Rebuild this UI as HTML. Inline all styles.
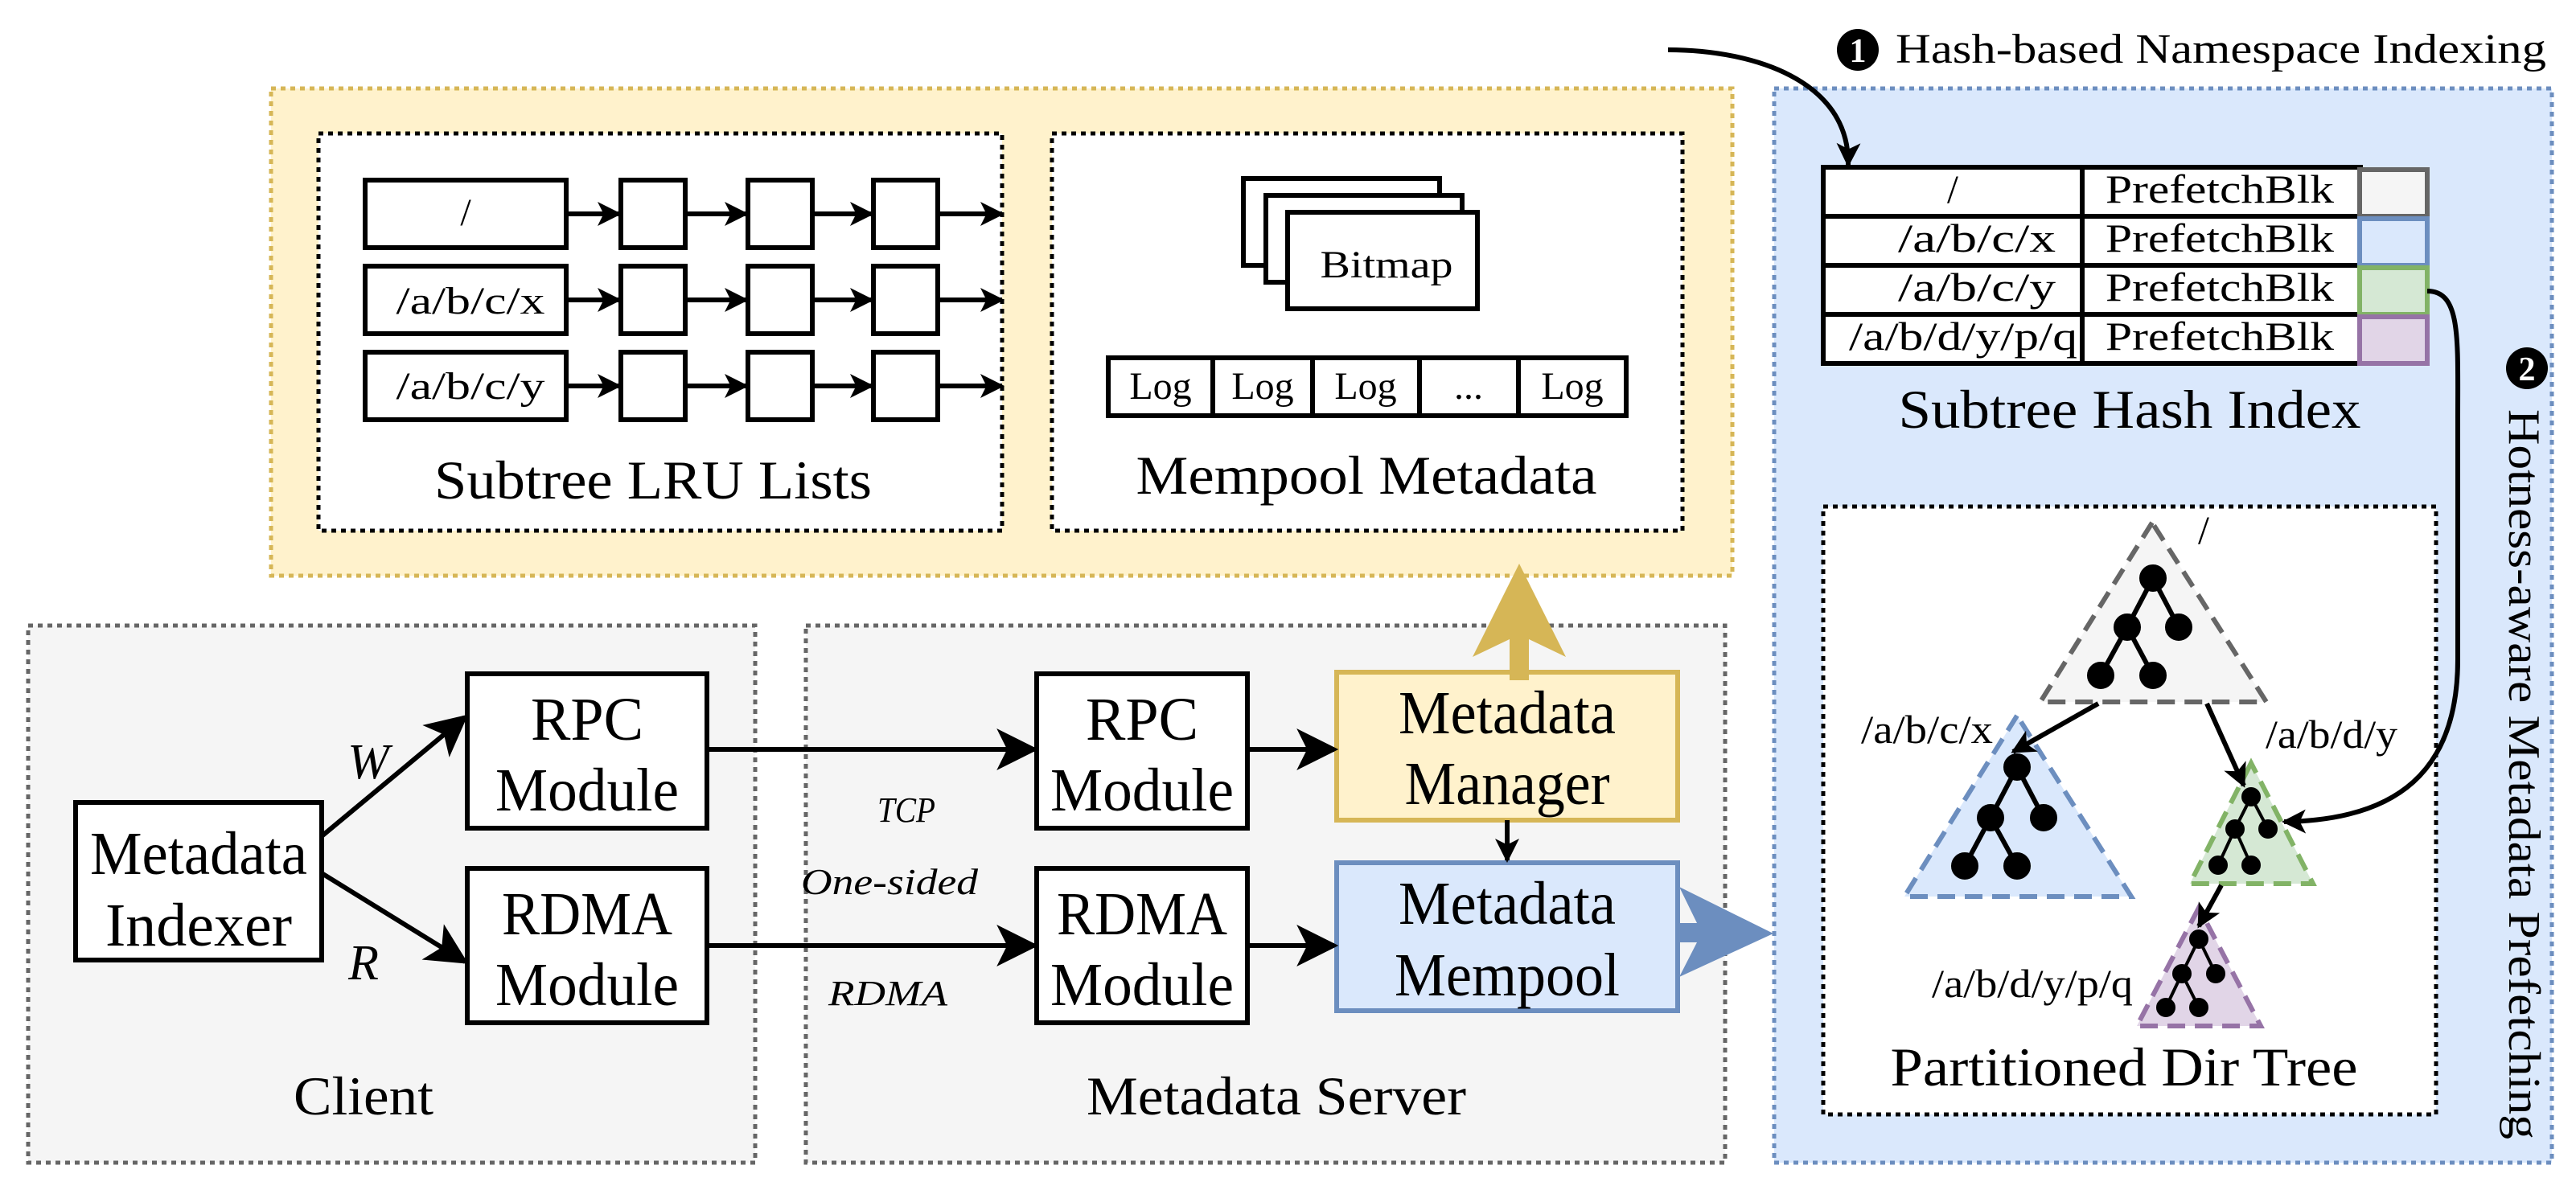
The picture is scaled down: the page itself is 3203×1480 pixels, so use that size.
<!DOCTYPE html>
<html><head><meta charset="utf-8"><style>
html,body{margin:0;padding:0;background:#fff}
svg{display:block}
text{font-family:"Liberation Serif","Times New Roman","Tinos","Nimbus Roman","DejaVu Serif",serif;fill:#000}
</style></head><body>
<svg width="3203" height="1480" viewBox="0 0 3203 1480" xmlns="http://www.w3.org/2000/svg" font-family="'Liberation Serif', 'Times New Roman', 'DejaVu Serif', serif">
<defs>
<marker id="big" viewBox="0 0 10 10" refX="9" refY="5" markerWidth="52" markerHeight="52" orient="auto" markerUnits="userSpaceOnUse"><path d="M0,0 L10,5 L0,10 L2.5,5 Z" fill="#000"/></marker>
<marker id="sm" viewBox="0 0 10 10" refX="9" refY="5" markerWidth="30" markerHeight="30" orient="auto" markerUnits="userSpaceOnUse"><path d="M0,0 L10,5 L0,10 L2.5,5 Z" fill="#000"/></marker>
</defs>

<rect x="337" y="110" width="1817" height="606" fill="#fff2cc" stroke="#d6b656" stroke-width="5" stroke-dasharray="6,6"/>
<rect x="396" y="166" width="850" height="494" fill="#fff" stroke="#000" stroke-width="5" stroke-dasharray="6,6"/>
<rect x="1308" y="166" width="784" height="494" fill="#fff" stroke="#000" stroke-width="5" stroke-dasharray="6,6"/>

<g stroke="#000" stroke-width="6" fill="#fff">
<rect x="454" y="224" width="250" height="84"/>
<rect x="454" y="331" width="250" height="84"/>
<rect x="454" y="438" width="250" height="84"/>
<rect x="772" y="224" width="80" height="84"/><rect x="930" y="224" width="80" height="84"/><rect x="1086" y="224" width="80" height="84"/>
<rect x="772" y="331" width="80" height="84"/><rect x="930" y="331" width="80" height="84"/><rect x="1086" y="331" width="80" height="84"/>
<rect x="772" y="438" width="80" height="84"/><rect x="930" y="438" width="80" height="84"/><rect x="1086" y="438" width="80" height="84"/>
</g>
<g stroke="#000" stroke-width="6" marker-end="url(#sm)">
<line x1="704" y1="266" x2="770" y2="266"/><line x1="852" y1="266" x2="928" y2="266"/><line x1="1010" y1="266" x2="1084" y2="266"/><line x1="1166" y1="266" x2="1246" y2="266"/>
<line x1="704" y1="373" x2="770" y2="373"/><line x1="852" y1="373" x2="928" y2="373"/><line x1="1010" y1="373" x2="1084" y2="373"/><line x1="1166" y1="373" x2="1246" y2="373"/>
<line x1="704" y1="480" x2="770" y2="480"/><line x1="852" y1="480" x2="928" y2="480"/><line x1="1010" y1="480" x2="1084" y2="480"/><line x1="1166" y1="480" x2="1246" y2="480"/>
</g>
<g font-size="48" text-anchor="middle">
<text x="579" y="280">/</text>
<text x="585" y="390" textLength="185" lengthAdjust="spacingAndGlyphs">/a/b/c/x</text>
<text x="585" y="496" textLength="185" lengthAdjust="spacingAndGlyphs">/a/b/c/y</text>
</g>
<text x="812" y="620" font-size="68" text-anchor="middle" textLength="544" lengthAdjust="spacingAndGlyphs">Subtree LRU Lists</text>

<g stroke="#000" stroke-width="6" fill="#fff">
<rect x="1546" y="222" width="244" height="108"/>
<rect x="1574" y="243" width="244" height="108"/>
<rect x="1601" y="264" width="236" height="120"/>
</g>
<text x="1724" y="345" font-size="48" text-anchor="middle" textLength="165" lengthAdjust="spacingAndGlyphs">Bitmap</text>
<g stroke="#000" stroke-width="6" fill="#fff">
<rect x="1378" y="445" width="644" height="72"/>
<line x1="1508" y1="445" x2="1508" y2="517"/><line x1="1632" y1="445" x2="1632" y2="517"/><line x1="1765" y1="445" x2="1765" y2="517"/><line x1="1888" y1="445" x2="1888" y2="517"/>
</g>
<g font-size="48" text-anchor="middle">
<text x="1443" y="496">Log</text><text x="1570" y="496">Log</text><text x="1698" y="496">Log</text><text x="1826" y="496">...</text><text x="1955" y="496">Log</text>
</g>
<text x="1699" y="614" font-size="68" text-anchor="middle" textLength="573" lengthAdjust="spacingAndGlyphs">Mempool Metadata</text>

<rect x="35" y="778" width="904" height="668" fill="#f5f5f5" stroke="#666" stroke-width="5" stroke-dasharray="6,6"/>
<rect x="1002" y="778" width="1143" height="668" fill="#f5f5f5" stroke="#666" stroke-width="5" stroke-dasharray="6,6"/>

<g stroke="#000" stroke-width="6" fill="#fff">
<rect x="94" y="998" width="306" height="196"/>
<rect x="581" y="838" width="298" height="192"/>
<rect x="581" y="1080" width="298" height="192"/>
<rect x="1289" y="838" width="262" height="192"/>
<rect x="1289" y="1080" width="262" height="192"/>
</g>
<rect x="1662" y="836" width="424" height="184" fill="#fff2cc" stroke="#d6b656" stroke-width="6"/>
<rect x="1662" y="1073" width="424" height="184" fill="#dae8fc" stroke="#6c8ebf" stroke-width="6"/>

<g font-size="76" text-anchor="middle">
<text x="247" y="1087" textLength="270" lengthAdjust="spacingAndGlyphs">Metadata</text><text x="247" y="1176" textLength="232" lengthAdjust="spacingAndGlyphs">Indexer</text>
<text x="730" y="920" textLength="140" lengthAdjust="spacingAndGlyphs">RPC</text><text x="730" y="1008" textLength="228" lengthAdjust="spacingAndGlyphs">Module</text>
<text x="730" y="1162" textLength="212" lengthAdjust="spacingAndGlyphs">RDMA</text><text x="730" y="1250" textLength="228" lengthAdjust="spacingAndGlyphs">Module</text>
<text x="1420" y="920" textLength="140" lengthAdjust="spacingAndGlyphs">RPC</text><text x="1420" y="1008" textLength="228" lengthAdjust="spacingAndGlyphs">Module</text>
<text x="1420" y="1162" textLength="212" lengthAdjust="spacingAndGlyphs">RDMA</text><text x="1420" y="1250" textLength="228" lengthAdjust="spacingAndGlyphs">Module</text>
<text x="1874" y="912" textLength="270" lengthAdjust="spacingAndGlyphs">Metadata</text><text x="1874" y="1000" textLength="255" lengthAdjust="spacingAndGlyphs">Manager</text>
<text x="1874" y="1149" textLength="270" lengthAdjust="spacingAndGlyphs">Metadata</text><text x="1874" y="1238" textLength="280" lengthAdjust="spacingAndGlyphs">Mempool</text>
</g>
<g font-size="68" text-anchor="middle">
<text x="452" y="1386" textLength="174" lengthAdjust="spacingAndGlyphs">Client</text>
<text x="1587" y="1386" textLength="472" lengthAdjust="spacingAndGlyphs">Metadata Server</text>
</g>
<g font-style="italic" text-anchor="middle">
<text x="458" y="968" font-size="62">W</text>
<text x="452" y="1218" font-size="62">R</text>
<text x="1127" y="1022" font-size="44" textLength="72" lengthAdjust="spacingAndGlyphs">TCP</text>
<text x="1106" y="1112" font-size="46" textLength="220" lengthAdjust="spacingAndGlyphs">One-sided</text>
<text x="1104" y="1250" font-size="44" textLength="148" lengthAdjust="spacingAndGlyphs">RDMA</text>
</g>

<g stroke="#000" stroke-width="6" marker-end="url(#big)">
<line x1="400" y1="1040" x2="578" y2="892"/>
<line x1="400" y1="1086" x2="578" y2="1196"/>
<line x1="879" y1="932" x2="1286" y2="932"/>
<line x1="879" y1="1176" x2="1286" y2="1176"/>
<line x1="1551" y1="932" x2="1659" y2="932"/>
<line x1="1551" y1="1176" x2="1659" y2="1176"/>
</g>
<line x1="1874" y1="1020" x2="1874" y2="1070" stroke="#000" stroke-width="6" marker-end="url(#sm)"/>

<polygon points="1889,701 1947,817 1901,795 1901,846 1877,846 1877,795 1831,817" fill="#d6b656"/>
<polygon points="2205,1161 2088,1103 2110,1148 2088,1148 2088,1172 2110,1172 2088,1215" fill="#6c8ebf"/>

<rect x="2206" y="110" width="967" height="1336" fill="#dae8fc" stroke="#6c8ebf" stroke-width="5" stroke-dasharray="6,6"/>
<g stroke="#000" stroke-width="6" fill="#fff">
<rect x="2267" y="208" width="668" height="244"/>
<line x1="2267" y1="269" x2="2935" y2="269"/><line x1="2267" y1="330" x2="2935" y2="330"/><line x1="2267" y1="391" x2="2935" y2="391"/>
<line x1="2589" y1="208" x2="2589" y2="452"/>
</g>
<rect x="2934" y="211" width="84" height="58" fill="#f5f5f5" stroke="#666" stroke-width="6"/>
<rect x="2934" y="272" width="84" height="58" fill="#dae8fc" stroke="#6c8ebf" stroke-width="6"/>
<rect x="2934" y="333" width="84" height="58" fill="#d5e8d4" stroke="#82b366" stroke-width="6"/>
<rect x="2934" y="394" width="84" height="58" fill="#e1d5e7" stroke="#9673a6" stroke-width="6"/>
<g font-size="50" text-anchor="middle">
<text x="2428" y="252">/</text>
<text x="2458" y="313" textLength="196" lengthAdjust="spacingAndGlyphs">/a/b/c/x</text>
<text x="2458" y="374" textLength="196" lengthAdjust="spacingAndGlyphs">/a/b/c/y</text>
<text x="2441" y="435" textLength="284" lengthAdjust="spacingAndGlyphs">/a/b/d/y/p/q</text>
<text x="2760" y="252" textLength="284" lengthAdjust="spacingAndGlyphs">PrefetchBlk</text>
<text x="2760" y="313" textLength="284" lengthAdjust="spacingAndGlyphs">PrefetchBlk</text>
<text x="2760" y="374" textLength="284" lengthAdjust="spacingAndGlyphs">PrefetchBlk</text>
<text x="2760" y="435" textLength="284" lengthAdjust="spacingAndGlyphs">PrefetchBlk</text>
</g>
<text x="2648" y="532" font-size="68" text-anchor="middle" textLength="575" lengthAdjust="spacingAndGlyphs">Subtree Hash Index</text>

<rect x="2267" y="630" width="762" height="756" fill="#fff" stroke="#000" stroke-width="5" stroke-dasharray="6,6"/>
<text x="2641" y="1350" font-size="68" text-anchor="middle" textLength="581" lengthAdjust="spacingAndGlyphs">Partitioned Dir Tree</text>

<polygon points="2676,650 2537,873 2818,873" fill="#f5f5f5" stroke="#666" stroke-width="6" stroke-dasharray="22,12"/>
<polygon points="2508,890 2368,1115 2650,1115" fill="#dae8fc" stroke="#6c8ebf" stroke-width="6" stroke-dasharray="22,12"/>
<polygon points="2799,949 2723,1099 2876,1099" fill="#d5e8d4" stroke="#82b366" stroke-width="6" stroke-dasharray="22,12"/>
<polygon points="2734,1129 2657,1276 2811,1276" fill="#e1d5e7" stroke="#9673a6" stroke-width="6" stroke-dasharray="22,12"/>
<g stroke="#000" stroke-width="6" fill="#000">
<line x1="2677" y1="719" x2="2645" y2="780"/><line x1="2677" y1="719" x2="2709" y2="780"/><line x1="2645" y1="780" x2="2612" y2="840"/><line x1="2645" y1="780" x2="2677" y2="840"/>
<circle cx="2677" cy="719" r="14"/><circle cx="2645" cy="780" r="14"/><circle cx="2709" cy="780" r="14"/><circle cx="2612" cy="840" r="14"/><circle cx="2677" cy="840" r="14"/>
<line x1="2508" y1="954" x2="2475" y2="1017"/><line x1="2508" y1="954" x2="2541" y2="1017"/><line x1="2475" y1="1017" x2="2443" y2="1077"/><line x1="2475" y1="1017" x2="2508" y2="1077"/>
<circle cx="2508" cy="954" r="14"/><circle cx="2475" cy="1017" r="14"/><circle cx="2541" cy="1017" r="14"/><circle cx="2443" cy="1077" r="14"/><circle cx="2508" cy="1077" r="14"/>
<line x1="2799" y1="991" x2="2779" y2="1031" stroke-width="4"/><line x1="2799" y1="991" x2="2820" y2="1031" stroke-width="4"/><line x1="2779" y1="1031" x2="2758" y2="1076" stroke-width="4"/><line x1="2779" y1="1031" x2="2799" y2="1076" stroke-width="4"/>
<circle cx="2799" cy="991" r="9"/><circle cx="2779" cy="1031" r="9"/><circle cx="2820" cy="1031" r="9"/><circle cx="2758" cy="1076" r="9"/><circle cx="2799" cy="1076" r="9"/>
<line x1="2734" y1="1168" x2="2713" y2="1211" stroke-width="4"/><line x1="2734" y1="1168" x2="2755" y2="1211" stroke-width="4"/><line x1="2713" y1="1211" x2="2693" y2="1253" stroke-width="4"/><line x1="2713" y1="1211" x2="2734" y2="1253" stroke-width="4"/>
<circle cx="2734" cy="1168" r="9"/><circle cx="2713" cy="1211" r="9"/><circle cx="2755" cy="1211" r="9"/><circle cx="2693" cy="1253" r="9"/><circle cx="2734" cy="1253" r="9"/>
</g>
<g stroke="#000" stroke-width="6" fill="none" marker-end="url(#sm)">
<line x1="2609" y1="875" x2="2503" y2="935"/>
<line x1="2744" y1="875" x2="2790" y2="977"/>
<line x1="2762" y1="1101" x2="2734" y2="1152"/>
<path d="M2074,62 C2180,62 2300,100 2298,205"/>
<path d="M3018,362 C3060,362 3056,420 3056,520 L3056,820 C3056,960 2980,1020 2840,1022"/>
</g>
<g font-size="50" text-anchor="middle">
<text x="2740" y="676">/</text>
<text x="2396" y="924" textLength="164" lengthAdjust="spacingAndGlyphs">/a/b/c/x</text>
<text x="2899" y="930" textLength="164" lengthAdjust="spacingAndGlyphs">/a/b/d/y</text>
<text x="2527" y="1240" textLength="250" lengthAdjust="spacingAndGlyphs">/a/b/d/y/p/q</text>
</g>

<circle cx="2310" cy="62" r="26" fill="#000"/>
<text x="2310" y="77" font-size="42" font-weight="bold" text-anchor="middle" style="fill:#fff">1</text>
<text x="2357" y="78" font-size="52" textLength="809" lengthAdjust="spacingAndGlyphs">Hash-based Namespace Indexing</text>
<circle cx="3142" cy="458" r="26" fill="#000"/>
<text x="3142" y="473" font-size="42" font-weight="bold" text-anchor="middle" style="fill:#fff">2</text>
<text transform="translate(3120,509) rotate(90)" font-size="56" textLength="908" lengthAdjust="spacingAndGlyphs">Hotness-aware Metadata Prefetching</text>
</svg>
</body></html>
